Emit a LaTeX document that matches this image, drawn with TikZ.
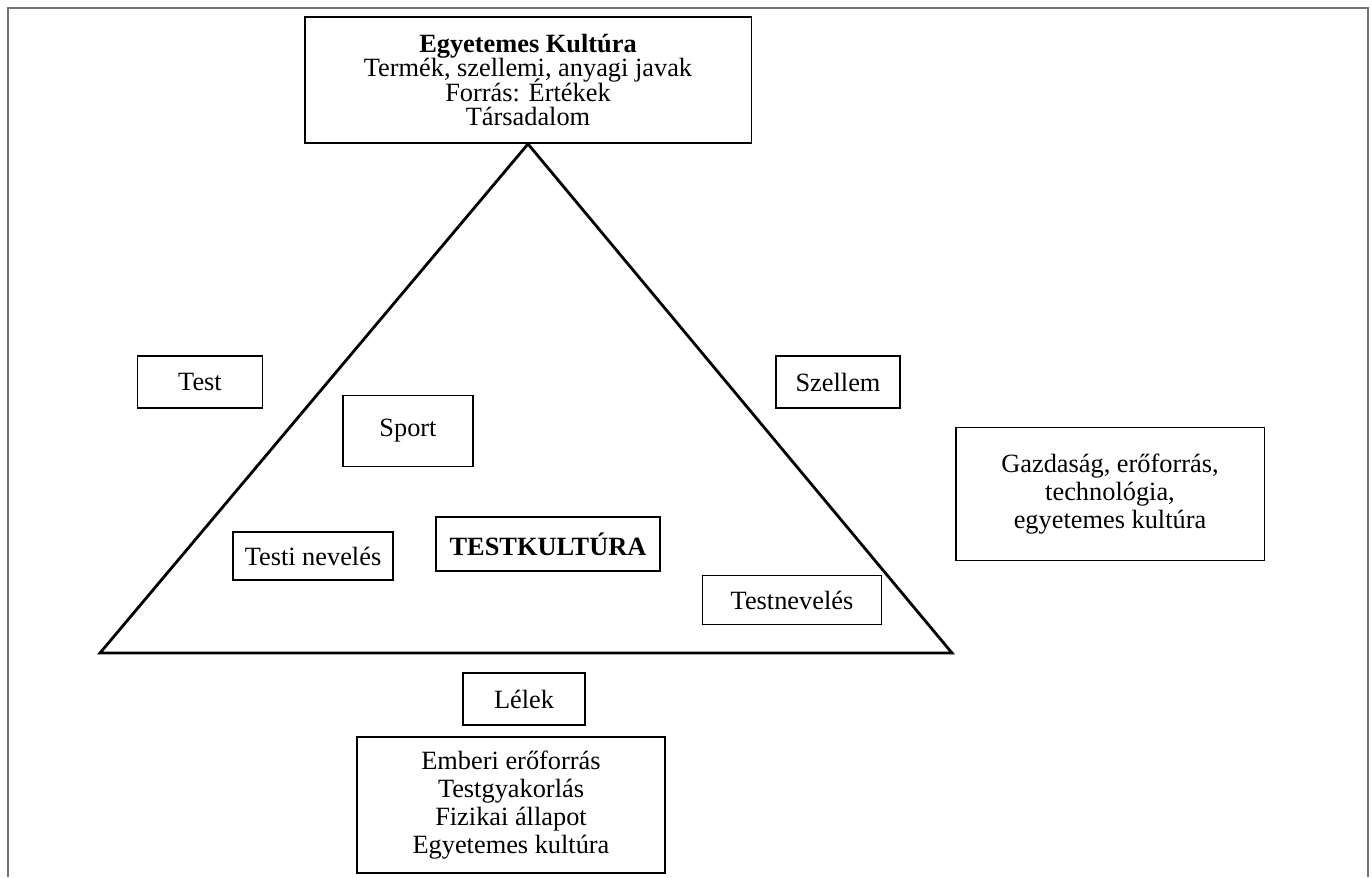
\documentclass[tikz,border=0pt]{standalone}
\usepackage{fontspec}
\setmainfont{Liberation Serif}

\newcommand\szorosan{\lineskiplimit=-20pt\relax}

\tikzset{doboz/.style 2 args = {draw, line width=1.1pt, align=center, inner sep=0pt,
                                minimum width=#1, minimum height=#2,
                                font=\fontsize{15}{16}\selectfont},
         haromszog/.style = {draw, line width=1.6pt, line join=miter},
         keret/.style = {draw=black!55, line width=1pt}
        }

\begin{document}
\begin{tikzpicture}[x=0.02cm, y=-0.02cm]
  \useasboundingbox (0,0) rectangle (1372,877);
  \draw[keret] (8,877) -- (8,8) -- (1368,8) -- (1368,877);

  \node[doboz={8.94cm}{2.52cm}, font=\fontsize{15}{14}\selectfont\szorosan] (kultura) at (528,80)
       {\textbf{Egyetemes Kultúra}\\Termék, szellemi, anyagi javak\\Forrás: Értékek\\Társadalom};

  % a haromszog
  \draw[haromszog] (kultura.south) -- (952,653) -- (100,653) -- cycle;

  \node[doboz={2.5cm}{1.04cm}]  (test)    at (200,382) {Test};
  \node[doboz={2.48cm}{1.04cm}] (szellem) at (838,382) {Szellem};
  \node[doboz={2.6cm}{1.42cm}]  (sport)   at (408,431) {Sport};
  \node[doboz={6.18cm}{2.66cm}] (gazd)    at (1110,494)
       {Gazdaság, erőforrás,\\technológia,\\egyetemes kultúra};
  \node[doboz={3.2cm}{0.96cm}]  (testinev) at (313,556) {Testi nevelés};
  \node[doboz={4.48cm}{1.08cm}, font=\fontsize{15}{16}\selectfont\bfseries] (tk) at (548,544) {TESTKULTÚRA};
  \node[doboz={3.58cm}{0.98cm}] (testnev) at (792,600) {Testnevelés};
  \node[doboz={2.44cm}{1.04cm}] (lelek)   at (524,699) {Lélek};
  \node[doboz={6.16cm}{2.72cm}] (ember)   at (511,805)
       {Emberi erőforrás\\Testgyakorlás\\Fizikai állapot\\Egyetemes kultúra};
\end{tikzpicture}
\end{document}
